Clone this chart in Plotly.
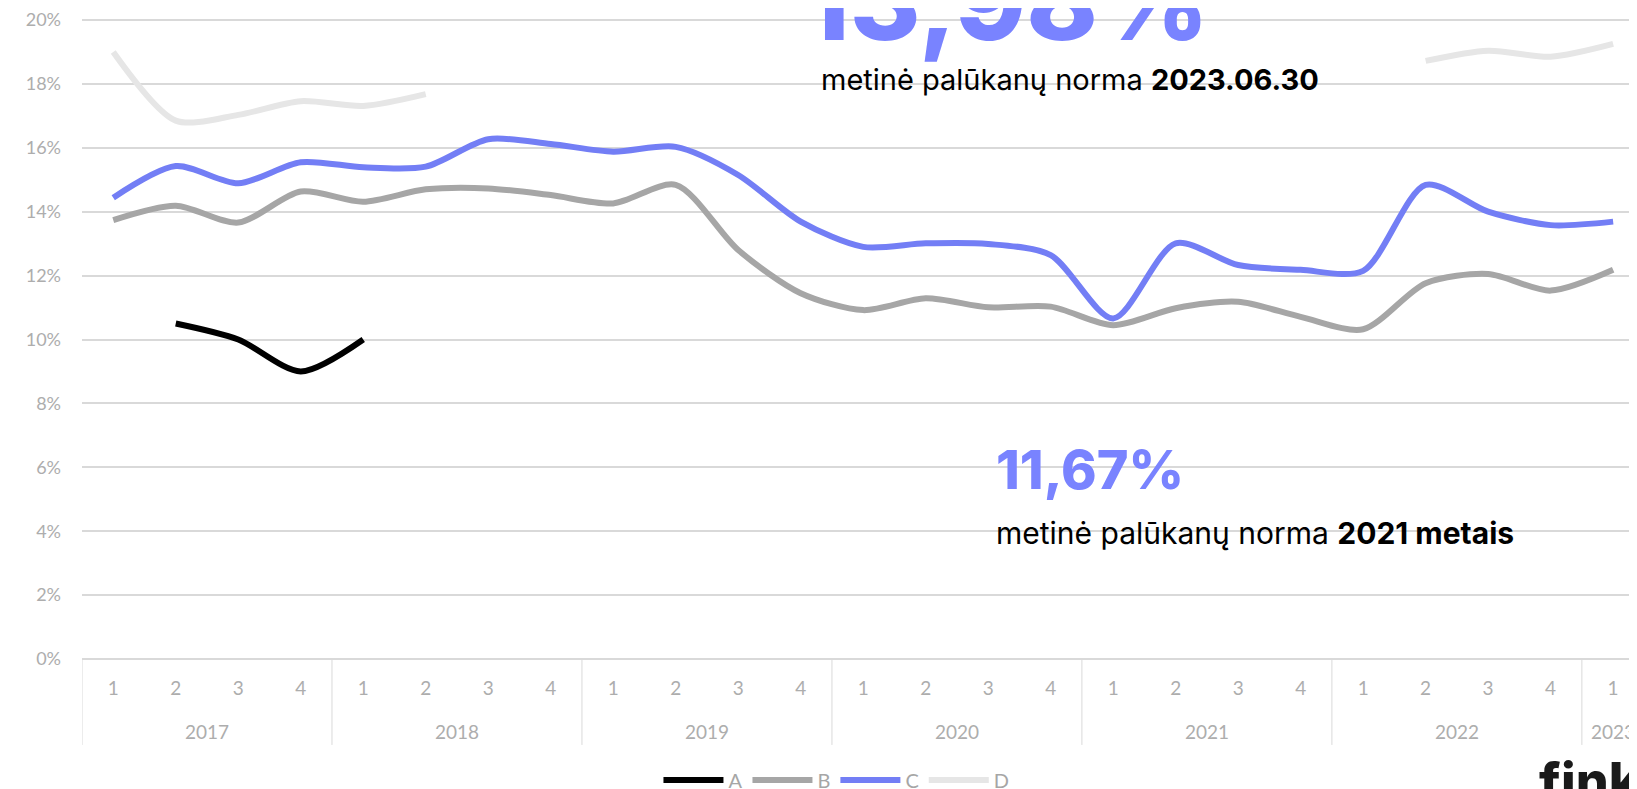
import plotly.graph_objects as go

# quarters 2017Q1 .. 2023Q1
years = ["2017"] * 4 + ["2018"] * 4 + ["2019"] * 4 + ["2020"] * 4 + ["2021"] * 4 + ["2022"] * 4 + ["2023"]
quarters = ["1", "2", "3", "4"] * 6 + ["1"]
y_ticks = [0, 2, 4, 6, 8, 10, 12, 14, 16, 18, 20]

series_a = [None, 10.5, 10.0, 9.0, 10.0] + [None] * 20
series_b = [13.74, 14.19, 13.66, 14.63, 14.31, 14.70, 14.73, 14.52,
            14.26, 14.84, 12.80, 11.45, 10.92, 11.29, 11.01, 11.03,
            10.45, 10.98, 11.18, 10.71, 10.32, 11.76, 12.05, 11.53, 12.18]
series_c = [14.44, 15.43, 14.89, 15.55, 15.39, 15.41, 16.27, 16.12,
            15.88, 16.03, 15.15, 13.69, 12.90, 13.01, 12.99, 12.64,
            10.66, 13.01, 12.33, 12.18, 12.15, 14.84, 14.00, 13.58, 13.69]
series_d = [19.0, 16.85, 17.03, 17.46, 17.31, 17.68] + [None] * 15 + [18.72, 19.04, 18.85, 19.25]

names = ["A", "B", "C", "D"]
colors = ["#000000", "#a6a6a6", "#737ef5", "#e6e6e6"]

cats = [f"{y}-{q}" for y, q in zip(years, quarters)]

fig = go.Figure()
for name, vals, col in zip(names, [series_a, series_b, series_c, series_d], colors):
    fig.add_trace(go.Scatter(
        x=cats, y=vals, name=name, mode="lines",
        line=dict(color=col, width=6, shape="spline", smoothing=0.8),
        connectgaps=False,
    ))

# year row and group dividers under the quarter labels
axis_grey = "#adadad"
groups = []
for i, yr in enumerate(years):
    if not groups or groups[-1][0] != yr:
        groups.append([yr, i, i])
    else:
        groups[-1][2] = i
for yr, first, last in groups:
    fig.add_annotation(x=(first + last) / 2, y=-0.1106, xref="x", yref="paper", text=yr,
                       showarrow=False, xanchor="center", yanchor="middle",
                       font=dict(family="Lato", size=19, color=axis_grey))
    fig.add_shape(type="line", x0=first - 0.5, x1=first - 0.5, y0=0, y1=-0.132,
                  xref="x", yref="paper", line=dict(color="#d9d9d9", width=1))

ann_font = "Inter"
blue_txt = "#7983ff"
fig.add_annotation(x=0.4594, y=1.012, xref="paper", yref="paper", text="13,98%",
                   showarrow=False, xanchor="left", yanchor="middle",
                   font=dict(family=ann_font, size=108, color=blue_txt, weight=800))
fig.add_annotation(x=0.4716, y=0.8908, xref="paper", yref="paper",
                   text="metinė palūkanų norma <b>2023.06.30</b>",
                   showarrow=False, xanchor="left", yanchor="middle",
                   font=dict(family=ann_font, size=29, color="#000000"))
fig.add_annotation(x=0.5836, y=0.2905, xref="paper", yref="paper", text="11,67%",
                   showarrow=False, xanchor="left", yanchor="middle",
                   font=dict(family=ann_font, size=54, color=blue_txt, weight=800))
fig.add_annotation(x=0.5836, y=0.1934, xref="paper", yref="paper",
                   text="metinė palūkanų norma <b>2021 metais</b>",
                   showarrow=False, xanchor="left", yanchor="middle",
                   font=dict(family=ann_font, size=30, color="#000000"))
# logo, cut off by the bottom edge
fig.add_annotation(x=1.0, y=-0.136, xref="paper", yref="paper", text="fink",
                   showarrow=False, xanchor="left", yanchor="top", xshift=-108,
                   font=dict(family=ann_font, size=52, color="#1a1a1a", weight=800))

# the page puts the figure 8px in from the top-left corner
fig.update_layout(
    width=1637, height=789,
    margin=dict(l=74, r=0, t=0, b=138, autoexpand=False),
    paper_bgcolor="white", plot_bgcolor="white",
    font=dict(family="Lato", color="#a6a6a6", size=18),
    showlegend=True,
    legend=dict(orientation="h", x=0.4827, xanchor="center", y=-0.186, yanchor="middle",
                itemwidth=60, font=dict(size=20, color="#a6a6a6")),
)
fig.update_yaxes(range=[0, 20.376], tickvals=y_ticks, ticktext=[f"{v}%" for v in y_ticks],
                 showgrid=True, gridcolor="#d9d9d9", gridwidth=2,
                 zeroline=True, zerolinecolor="#d9d9d9", zerolinewidth=2,
                 showline=False, ticks="", automargin=False, ticklabelstandoff=20,
                 tickfont=dict(size=18, color=axis_grey))
fig.update_xaxes(type="category", range=[-0.5, 24.51], showgrid=False, ticks="",
                 tickvals=cats, ticktext=quarters, showline=False,
                 ticklabelstandoff=16, automargin=False,
                 tickfont=dict(size=19, color=axis_grey))

fig.write_html("out.html")
